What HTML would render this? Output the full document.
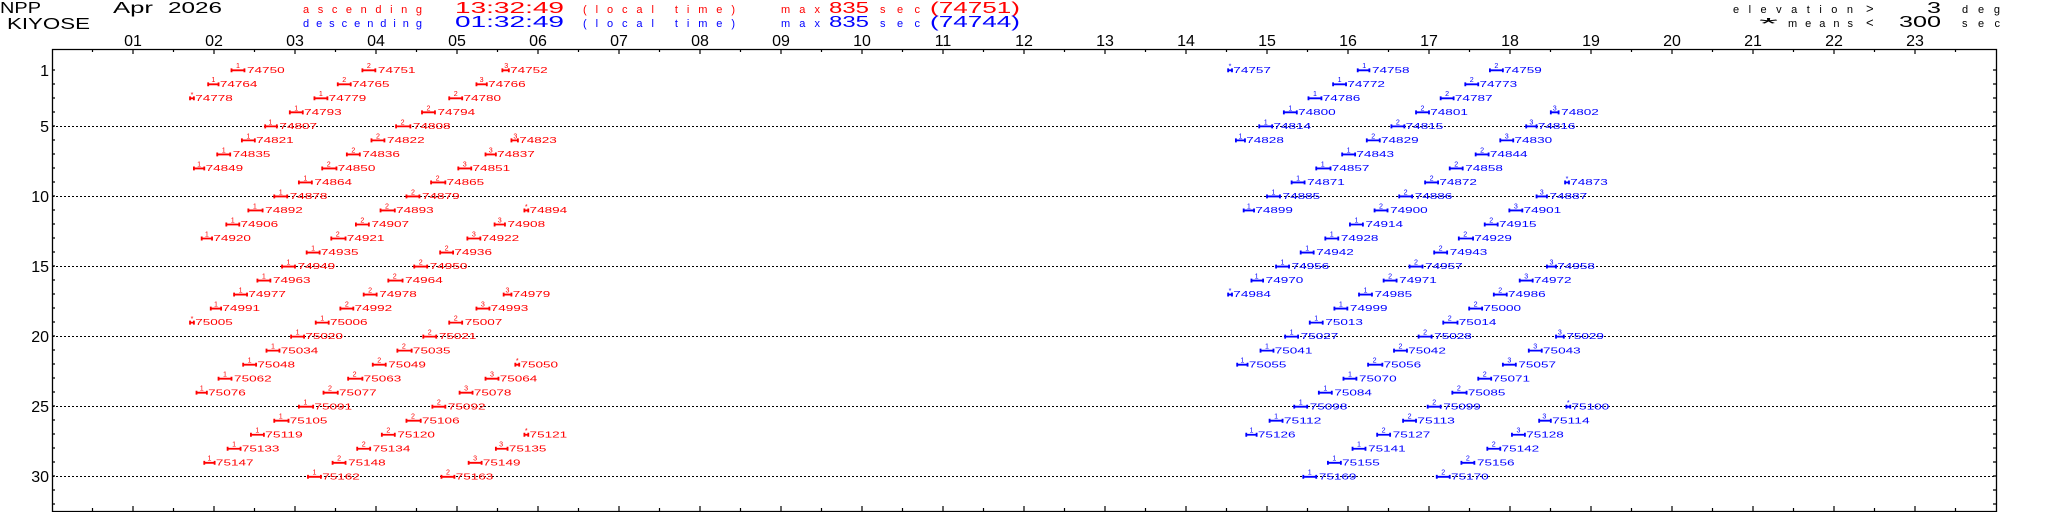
<!DOCTYPE html>
<html><head><meta charset="utf-8"><style>
html,body{margin:0;padding:0;background:#fff;}
svg{display:block;}
text{font-family:"Liberation Sans",sans-serif;}
.R{fill:#f00;stroke:none}.B{fill:#00f;stroke:none}
.R path{stroke:#f00;stroke-width:1.4;fill:none}.B path{stroke:#00f;stroke-width:1.4;fill:none}
.n{font-size:6px}
.s{font-size:5.5px;text-anchor:middle}
</style></head><body>
<svg width="2048" height="512" viewBox="0 0 2048 512" xmlns="http://www.w3.org/2000/svg">
<rect width="2048" height="512" fill="#fff"/>
<g fill="#000" font-size="16">
<text x="0" y="13" textLength="41" lengthAdjust="spacingAndGlyphs">NPP</text>
<text x="7" y="29" textLength="83" lengthAdjust="spacingAndGlyphs">KIYOSE</text>
<text x="113" y="13" textLength="40" lengthAdjust="spacingAndGlyphs">Apr</text>
<text x="168" y="13" textLength="54" lengthAdjust="spacingAndGlyphs">2026</text>
</g>
<g fill="#f00">
<text x="303" y="13" font-size="11" textLength="119" lengthAdjust="spacing">ascending</text>
<text x="455" y="13" font-size="16" textLength="109" lengthAdjust="spacingAndGlyphs">13:32:49</text>
<text x="583" y="13" font-size="11" textLength="152" lengthAdjust="spacing">(local time)</text>
<text x="781" y="13" font-size="11" textLength="39" lengthAdjust="spacing">max</text>
<text x="829" y="13" font-size="16" textLength="40" lengthAdjust="spacingAndGlyphs">835</text>
<text x="880" y="13" font-size="11" textLength="40" lengthAdjust="spacing">sec</text>
<text x="930" y="13" font-size="16" textLength="90" lengthAdjust="spacingAndGlyphs">(74751)</text>
</g>
<g fill="#00f">
<text x="303" y="27" font-size="11" textLength="119" lengthAdjust="spacing">descending</text>
<text x="455" y="27" font-size="16" textLength="109" lengthAdjust="spacingAndGlyphs">01:32:49</text>
<text x="583" y="27" font-size="11" textLength="152" lengthAdjust="spacing">(local time)</text>
<text x="781" y="27" font-size="11" textLength="39" lengthAdjust="spacing">max</text>
<text x="829" y="27" font-size="16" textLength="40" lengthAdjust="spacingAndGlyphs">835</text>
<text x="880" y="27" font-size="11" textLength="40" lengthAdjust="spacing">sec</text>
<text x="930" y="27" font-size="16" textLength="90" lengthAdjust="spacingAndGlyphs">(74744)</text>
</g>
<g fill="#000">
<text x="1733" y="13" font-size="11" textLength="120" lengthAdjust="spacing">elevation</text>
<text x="1866" y="13" font-size="13">&gt;</text>
<text x="1927" y="13" font-size="16" textLength="14" lengthAdjust="spacingAndGlyphs">3</text>
<text x="1962" y="13" font-size="11" textLength="38" lengthAdjust="spacing">deg</text>
<text x="1759" y="29" font-size="16" textLength="19" lengthAdjust="spacingAndGlyphs">*</text>
<text x="1788" y="27" font-size="11" textLength="65" lengthAdjust="spacing">means</text>
<text x="1866" y="27" font-size="13">&lt;</text>
<text x="1899" y="27" font-size="16" textLength="42" lengthAdjust="spacingAndGlyphs">300</text>
<text x="1962" y="27" font-size="11" textLength="38" lengthAdjust="spacing">sec</text>
</g>
<g fill="#000" font-size="16" text-anchor="middle">
<text x="133" y="46">01</text><text x="214" y="46">02</text><text x="295" y="46">03</text><text x="376" y="46">04</text><text x="457" y="46">05</text><text x="538" y="46">06</text><text x="619" y="46">07</text><text x="700" y="46">08</text><text x="781" y="46">09</text><text x="862" y="46">10</text><text x="943" y="46">11</text><text x="1024" y="46">12</text><text x="1105" y="46">13</text><text x="1186" y="46">14</text><text x="1267" y="46">15</text><text x="1348" y="46">16</text><text x="1429" y="46">17</text><text x="1510" y="46">18</text><text x="1591" y="46">19</text><text x="1672" y="46">20</text><text x="1753" y="46">21</text><text x="1834" y="46">22</text><text x="1915" y="46">23</text>
</g>
<g fill="#000" font-size="16" text-anchor="end">
<text x="49" y="76">1</text><text x="49" y="132">5</text><text x="49" y="202">10</text><text x="49" y="272">15</text><text x="49" y="342">20</text><text x="49" y="412">25</text><text x="49" y="482">30</text>
</g>
<g stroke="#000" stroke-width="1" stroke-dasharray="2,2">
<path d="M52 126.5H1997M52 196.5H1997M52 266.5H1997M52 336.5H1997M52 406.5H1997M52 476.5H1997"/>
</g>
<path d="M52.5 512V49.5H1996.5V512M52 511.5H1997" stroke="#000" stroke-width="1.3" fill="none"/>
<path stroke="#000" stroke-width="1.2" fill="none" d="M133 49v5M214 49v5M295 49v5M376 49v5M457 49v5M538 49v5M619 49v5M700 49v5M781 49v5M862 49v5M943 49v5M1024 49v5M1105 49v5M1186 49v5M1267 49v5M1348 49v5M1429 49v5M1510 49v5M1591 49v5M1672 49v5M1753 49v5M1834 49v5M1915 49v5M92.5 49v3M173.5 49v3M254.5 49v3M335.5 49v3M416.5 49v3M497.5 49v3M578.5 49v3M659.5 49v3M740.5 49v3M821.5 49v3M902.5 49v3M983.5 49v3M1064.5 49v3M1145.5 49v3M1226.5 49v3M1307.5 49v3M1388.5 49v3M1469.5 49v3M1550.5 49v3M1631.5 49v3M1712.5 49v3M1793.5 49v3M1874.5 49v3M1955.5 49v3
M133 511v-5M214 511v-5M295 511v-5M376 511v-5M457 511v-5M538 511v-5M619 511v-5M700 511v-5M781 511v-5M862 511v-5M943 511v-5M1024 511v-5M1105 511v-5M1186 511v-5M1267 511v-5M1348 511v-5M1429 511v-5M1510 511v-5M1591 511v-5M1672 511v-5M1753 511v-5M1834 511v-5M1915 511v-5M92.5 511v-3M173.5 511v-3M254.5 511v-3M335.5 511v-3M416.5 511v-3M497.5 511v-3M578.5 511v-3M659.5 511v-3M740.5 511v-3M821.5 511v-3M902.5 511v-3M983.5 511v-3M1064.5 511v-3M1145.5 511v-3M1226.5 511v-3M1307.5 511v-3M1388.5 511v-3M1469.5 511v-3M1550.5 511v-3M1631.5 511v-3M1712.5 511v-3M1793.5 511v-3M1874.5 511v-3M1955.5 511v-3
M52 70h3M52 84h3M52 98h3M52 112h3M52 126h3M52 140h3M52 154h3M52 168h3M52 182h3M52 196h3M52 210h3M52 224h3M52 238h3M52 252h3M52 266h3M52 280h3M52 294h3M52 308h3M52 322h3M52 336h3M52 350h3M52 364h3M52 378h3M52 392h3M52 406h3M52 420h3M52 434h3M52 448h3M52 462h3M52 476h3M52 490h3M52 504h3
M1993 70h4M1993 84h4M1993 98h4M1993 112h4M1993 126h4M1993 140h4M1993 154h4M1993 168h4M1993 182h4M1993 196h4M1993 210h4M1993 224h4M1993 238h4M1993 252h4M1993 266h4M1993 280h4M1993 294h4M1993 308h4M1993 322h4M1993 336h4M1993 350h4M1993 364h4M1993 378h4M1993 392h4M1993 406h4M1993 420h4M1993 434h4M1993 448h4M1993 462h4M1993 476h4M1993 490h4M1993 504h4"/>

<g transform="matrix(1.296 0 0 1.31 3.4 -0.7)">
<g class="R">
<g transform="translate(0,54.2)"><path d="M176 0h10M176-1.5v3M186-1.5v3M277 0h10M277-1.5v3M287-1.5v3M385 0h5M385-1.5v3M390-1.5v3"/><text class="s" x="181" y="-1.6">1</text><text class="n" x="188" y="2" textLength="29" lengthAdjust="spacingAndGlyphs">74750</text><text class="s" x="282" y="-1.6">2</text><text class="n" x="289" y="2" textLength="29" lengthAdjust="spacingAndGlyphs">74751</text><text class="s" x="388" y="-1.6">3</text><text class="n" x="391" y="2" textLength="29" lengthAdjust="spacingAndGlyphs">74752</text></g>
<g transform="translate(0,64.9)"><path d="M158 0h8M158-1.5v3M166-1.5v3M258 0h10M258-1.5v3M268-1.5v3M365 0h8M365-1.5v3M373-1.5v3"/><text class="s" x="162" y="-1.6">1</text><text class="n" x="167" y="2" textLength="29" lengthAdjust="spacingAndGlyphs">74764</text><text class="s" x="263" y="-1.6">2</text><text class="n" x="269" y="2" textLength="29" lengthAdjust="spacingAndGlyphs">74765</text><text class="s" x="369" y="-1.6">3</text><text class="n" x="374" y="2" textLength="29" lengthAdjust="spacingAndGlyphs">74766</text></g>
<g transform="translate(0,75.6)"><path d="M144 0h3M144-1.5v3M147-1.5v3M240 0h10M240-1.5v3M250-1.5v3M344 0h10M344-1.5v3M354-1.5v3"/><text class="s" x="145.5" y="-1.2">*</text><text class="n" x="148" y="2" textLength="29" lengthAdjust="spacingAndGlyphs">74778</text><text class="s" x="245" y="-1.6">1</text><text class="n" x="251" y="2" textLength="29" lengthAdjust="spacingAndGlyphs">74779</text><text class="s" x="349" y="-1.6">2</text><text class="n" x="355" y="2" textLength="29" lengthAdjust="spacingAndGlyphs">74780</text></g>
<g transform="translate(0,86.3)"><path d="M221 0h10M221-1.5v3M231-1.5v3M323 0h10M323-1.5v3M333-1.5v3"/><text class="s" x="226" y="-1.6">1</text><text class="n" x="232" y="2" textLength="29" lengthAdjust="spacingAndGlyphs">74793</text><text class="s" x="328" y="-1.6">2</text><text class="n" x="335" y="2" textLength="29" lengthAdjust="spacingAndGlyphs">74794</text></g>
<g transform="translate(0,97)"><path d="M202 0h9M202-1.5v3M211-1.5v3M303 0h11M303-1.5v3M314-1.5v3"/><text class="s" x="206" y="-1.6">1</text><text class="n" x="213" y="2" textLength="29" lengthAdjust="spacingAndGlyphs">74807</text><text class="s" x="308" y="-1.6">2</text><text class="n" x="316" y="2" textLength="29" lengthAdjust="spacingAndGlyphs">74808</text></g>
<g transform="translate(0,107.7)"><path d="M184 0h10M184-1.5v3M194-1.5v3M284 0h10M284-1.5v3M294-1.5v3M392 0h5M392-1.5v3M397-1.5v3"/><text class="s" x="189" y="-1.6">1</text><text class="n" x="195" y="2" textLength="29" lengthAdjust="spacingAndGlyphs">74821</text><text class="s" x="289" y="-1.6">2</text><text class="n" x="296" y="2" textLength="29" lengthAdjust="spacingAndGlyphs">74822</text><text class="s" x="395" y="-1.6">3</text><text class="n" x="398" y="2" textLength="29" lengthAdjust="spacingAndGlyphs">74823</text></g>
<g transform="translate(0,118.4)"><path d="M165 0h10M165-1.5v3M175-1.5v3M265 0h10M265-1.5v3M275-1.5v3M372 0h8M372-1.5v3M380-1.5v3"/><text class="s" x="170" y="-1.6">1</text><text class="n" x="177" y="2" textLength="29" lengthAdjust="spacingAndGlyphs">74835</text><text class="s" x="270" y="-1.6">2</text><text class="n" x="277" y="2" textLength="29" lengthAdjust="spacingAndGlyphs">74836</text><text class="s" x="376" y="-1.6">3</text><text class="n" x="381" y="2" textLength="29" lengthAdjust="spacingAndGlyphs">74837</text></g>
<g transform="translate(0,129.1)"><path d="M147 0h8M147-1.5v3M155-1.5v3M246 0h11M246-1.5v3M257-1.5v3M351 0h10M351-1.5v3M361-1.5v3"/><text class="s" x="151" y="-1.6">1</text><text class="n" x="156" y="2" textLength="29" lengthAdjust="spacingAndGlyphs">74849</text><text class="s" x="251" y="-1.6">2</text><text class="n" x="258" y="2" textLength="29" lengthAdjust="spacingAndGlyphs">74850</text><text class="s" x="356" y="-1.6">3</text><text class="n" x="362" y="2" textLength="29" lengthAdjust="spacingAndGlyphs">74851</text></g>
<g transform="translate(0,139.8)"><path d="M228 0h10M228-1.5v3M238-1.5v3M330 0h11M330-1.5v3M341-1.5v3"/><text class="s" x="233" y="-1.6">1</text><text class="n" x="240" y="2" textLength="29" lengthAdjust="spacingAndGlyphs">74864</text><text class="s" x="335" y="-1.6">2</text><text class="n" x="342" y="2" textLength="29" lengthAdjust="spacingAndGlyphs">74865</text></g>
<g transform="translate(0,150.5)"><path d="M209 0h10M209-1.5v3M219-1.5v3M311 0h10M311-1.5v3M321-1.5v3"/><text class="s" x="214" y="-1.6">1</text><text class="n" x="221" y="2" textLength="29" lengthAdjust="spacingAndGlyphs">74878</text><text class="s" x="316" y="-1.6">2</text><text class="n" x="323" y="2" textLength="29" lengthAdjust="spacingAndGlyphs">74879</text></g>
<g transform="translate(0,161.2)"><path d="M189 0h11M189-1.5v3M200-1.5v3M291 0h11M291-1.5v3M302-1.5v3M402 0h3M402-1.5v3M405-1.5v3"/><text class="s" x="194" y="-1.6">1</text><text class="n" x="202" y="2" textLength="29" lengthAdjust="spacingAndGlyphs">74892</text><text class="s" x="296" y="-1.6">2</text><text class="n" x="303" y="2" textLength="29" lengthAdjust="spacingAndGlyphs">74893</text><text class="s" x="403.5" y="-1.2">*</text><text class="n" x="406" y="2" textLength="29" lengthAdjust="spacingAndGlyphs">74894</text></g>
<g transform="translate(0,171.9)"><path d="M172 0h10M172-1.5v3M182-1.5v3M272 0h10M272-1.5v3M282-1.5v3M379 0h8M379-1.5v3M387-1.5v3"/><text class="s" x="177" y="-1.6">1</text><text class="n" x="183" y="2" textLength="29" lengthAdjust="spacingAndGlyphs">74906</text><text class="s" x="277" y="-1.6">2</text><text class="n" x="284" y="2" textLength="29" lengthAdjust="spacingAndGlyphs">74907</text><text class="s" x="383" y="-1.6">3</text><text class="n" x="389" y="2" textLength="29" lengthAdjust="spacingAndGlyphs">74908</text></g>
<g transform="translate(0,182.6)"><path d="M153 0h8M153-1.5v3M161-1.5v3M253 0h11M253-1.5v3M264-1.5v3M358 0h10M358-1.5v3M368-1.5v3"/><text class="s" x="157" y="-1.6">1</text><text class="n" x="162" y="2" textLength="29" lengthAdjust="spacingAndGlyphs">74920</text><text class="s" x="258" y="-1.6">2</text><text class="n" x="265" y="2" textLength="29" lengthAdjust="spacingAndGlyphs">74921</text><text class="s" x="363" y="-1.6">3</text><text class="n" x="369" y="2" textLength="29" lengthAdjust="spacingAndGlyphs">74922</text></g>
<g transform="translate(0,193.3)"><path d="M234 0h10M234-1.5v3M244-1.5v3M337 0h10M337-1.5v3M347-1.5v3"/><text class="s" x="239" y="-1.6">1</text><text class="n" x="245" y="2" textLength="29" lengthAdjust="spacingAndGlyphs">74935</text><text class="s" x="342" y="-1.6">2</text><text class="n" x="348" y="2" textLength="29" lengthAdjust="spacingAndGlyphs">74936</text></g>
<g transform="translate(0,204)"><path d="M215 0h10M215-1.5v3M225-1.5v3M317 0h10M317-1.5v3M327-1.5v3"/><text class="s" x="220" y="-1.6">1</text><text class="n" x="227" y="2" textLength="29" lengthAdjust="spacingAndGlyphs">74949</text><text class="s" x="322" y="-1.6">2</text><text class="n" x="329" y="2" textLength="29" lengthAdjust="spacingAndGlyphs">74950</text></g>
<g transform="translate(0,214.7)"><path d="M196 0h10M196-1.5v3M206-1.5v3M297 0h11M297-1.5v3M308-1.5v3"/><text class="s" x="201" y="-1.6">1</text><text class="n" x="208" y="2" textLength="29" lengthAdjust="spacingAndGlyphs">74963</text><text class="s" x="302" y="-1.6">2</text><text class="n" x="310" y="2" textLength="29" lengthAdjust="spacingAndGlyphs">74964</text></g>
<g transform="translate(0,225.4)"><path d="M178 0h10M178-1.5v3M188-1.5v3M278 0h10M278-1.5v3M288-1.5v3M386 0h6M386-1.5v3M392-1.5v3"/><text class="s" x="183" y="-1.6">1</text><text class="n" x="189" y="2" textLength="29" lengthAdjust="spacingAndGlyphs">74977</text><text class="s" x="283" y="-1.6">2</text><text class="n" x="290" y="2" textLength="29" lengthAdjust="spacingAndGlyphs">74978</text><text class="s" x="389" y="-1.6">3</text><text class="n" x="393" y="2" textLength="29" lengthAdjust="spacingAndGlyphs">74979</text></g>
<g transform="translate(0,236.1)"><path d="M160 0h8M160-1.5v3M168-1.5v3M260 0h10M260-1.5v3M270-1.5v3M365 0h10M365-1.5v3M375-1.5v3"/><text class="s" x="164" y="-1.6">1</text><text class="n" x="169" y="2" textLength="29" lengthAdjust="spacingAndGlyphs">74991</text><text class="s" x="265" y="-1.6">2</text><text class="n" x="271" y="2" textLength="29" lengthAdjust="spacingAndGlyphs">74992</text><text class="s" x="370" y="-1.6">3</text><text class="n" x="376" y="2" textLength="29" lengthAdjust="spacingAndGlyphs">74993</text></g>
<g transform="translate(0,246.8)"><path d="M144 0h3M144-1.5v3M147-1.5v3M241 0h10M241-1.5v3M251-1.5v3M344 0h10M344-1.5v3M354-1.5v3"/><text class="s" x="145.5" y="-1.2">*</text><text class="n" x="148" y="2" textLength="29" lengthAdjust="spacingAndGlyphs">75005</text><text class="s" x="246" y="-1.6">1</text><text class="n" x="252" y="2" textLength="29" lengthAdjust="spacingAndGlyphs">75006</text><text class="s" x="349" y="-1.6">2</text><text class="n" x="356" y="2" textLength="29" lengthAdjust="spacingAndGlyphs">75007</text></g>
<g transform="translate(0,257.5)"><path d="M222 0h10M222-1.5v3M232-1.5v3M324 0h10M324-1.5v3M334-1.5v3"/><text class="s" x="227" y="-1.6">1</text><text class="n" x="233" y="2" textLength="29" lengthAdjust="spacingAndGlyphs">75020</text><text class="s" x="329" y="-1.6">2</text><text class="n" x="336" y="2" textLength="29" lengthAdjust="spacingAndGlyphs">75021</text></g>
<g transform="translate(0,268.2)"><path d="M203 0h10M203-1.5v3M213-1.5v3M304 0h11M304-1.5v3M315-1.5v3"/><text class="s" x="208" y="-1.6">1</text><text class="n" x="214" y="2" textLength="29" lengthAdjust="spacingAndGlyphs">75034</text><text class="s" x="309" y="-1.6">2</text><text class="n" x="316" y="2" textLength="29" lengthAdjust="spacingAndGlyphs">75035</text></g>
<g transform="translate(0,278.9)"><path d="M185 0h10M185-1.5v3M195-1.5v3M285 0h10M285-1.5v3M295-1.5v3M395 0h3M395-1.5v3M398-1.5v3"/><text class="s" x="190" y="-1.6">1</text><text class="n" x="196" y="2" textLength="29" lengthAdjust="spacingAndGlyphs">75048</text><text class="s" x="290" y="-1.6">2</text><text class="n" x="297" y="2" textLength="29" lengthAdjust="spacingAndGlyphs">75049</text><text class="s" x="396.5" y="-1.2">*</text><text class="n" x="399" y="2" textLength="29" lengthAdjust="spacingAndGlyphs">75050</text></g>
<g transform="translate(0,289.6)"><path d="M166 0h10M166-1.5v3M176-1.5v3M266 0h11M266-1.5v3M277-1.5v3M372 0h10M372-1.5v3M382-1.5v3"/><text class="s" x="171" y="-1.6">1</text><text class="n" x="178" y="2" textLength="29" lengthAdjust="spacingAndGlyphs">75062</text><text class="s" x="271" y="-1.6">2</text><text class="n" x="278" y="2" textLength="29" lengthAdjust="spacingAndGlyphs">75063</text><text class="s" x="377" y="-1.6">3</text><text class="n" x="383" y="2" textLength="29" lengthAdjust="spacingAndGlyphs">75064</text></g>
<g transform="translate(0,300.3)"><path d="M149 0h8M149-1.5v3M157-1.5v3M247 0h11M247-1.5v3M258-1.5v3M352 0h10M352-1.5v3M362-1.5v3"/><text class="s" x="153" y="-1.6">1</text><text class="n" x="158" y="2" textLength="29" lengthAdjust="spacingAndGlyphs">75076</text><text class="s" x="252" y="-1.6">2</text><text class="n" x="259" y="2" textLength="29" lengthAdjust="spacingAndGlyphs">75077</text><text class="s" x="357" y="-1.6">3</text><text class="n" x="363" y="2" textLength="29" lengthAdjust="spacingAndGlyphs">75078</text></g>
<g transform="translate(0,311)"><path d="M228 0h11M228-1.5v3M239-1.5v3M331 0h10M331-1.5v3M341-1.5v3"/><text class="s" x="233" y="-1.6">1</text><text class="n" x="240" y="2" textLength="29" lengthAdjust="spacingAndGlyphs">75091</text><text class="s" x="336" y="-1.6">2</text><text class="n" x="343" y="2" textLength="29" lengthAdjust="spacingAndGlyphs">75092</text></g>
<g transform="translate(0,321.7)"><path d="M209 0h11M209-1.5v3M220-1.5v3M311 0h11M311-1.5v3M322-1.5v3"/><text class="s" x="214" y="-1.6">1</text><text class="n" x="221" y="2" textLength="29" lengthAdjust="spacingAndGlyphs">75105</text><text class="s" x="316" y="-1.6">2</text><text class="n" x="323" y="2" textLength="29" lengthAdjust="spacingAndGlyphs">75106</text></g>
<g transform="translate(0,332.4)"><path d="M191 0h10M191-1.5v3M201-1.5v3M292 0h10M292-1.5v3M302-1.5v3M402 0h3M402-1.5v3M405-1.5v3"/><text class="s" x="196" y="-1.6">1</text><text class="n" x="202" y="2" textLength="29" lengthAdjust="spacingAndGlyphs">75119</text><text class="s" x="297" y="-1.6">2</text><text class="n" x="304" y="2" textLength="29" lengthAdjust="spacingAndGlyphs">75120</text><text class="s" x="403.5" y="-1.2">*</text><text class="n" x="406" y="2" textLength="29" lengthAdjust="spacingAndGlyphs">75121</text></g>
<g transform="translate(0,343.1)"><path d="M173 0h10M173-1.5v3M183-1.5v3M273 0h10M273-1.5v3M283-1.5v3M380 0h9M380-1.5v3M389-1.5v3"/><text class="s" x="178" y="-1.6">1</text><text class="n" x="184" y="2" textLength="29" lengthAdjust="spacingAndGlyphs">75133</text><text class="s" x="278" y="-1.6">2</text><text class="n" x="285" y="2" textLength="29" lengthAdjust="spacingAndGlyphs">75134</text><text class="s" x="384" y="-1.6">3</text><text class="n" x="390" y="2" textLength="29" lengthAdjust="spacingAndGlyphs">75135</text></g>
<g transform="translate(0,353.8)"><path d="M155 0h8M155-1.5v3M163-1.5v3M254 0h10M254-1.5v3M264-1.5v3M359 0h10M359-1.5v3M369-1.5v3"/><text class="s" x="159" y="-1.6">1</text><text class="n" x="164" y="2" textLength="29" lengthAdjust="spacingAndGlyphs">75147</text><text class="s" x="259" y="-1.6">2</text><text class="n" x="266" y="2" textLength="29" lengthAdjust="spacingAndGlyphs">75148</text><text class="s" x="364" y="-1.6">3</text><text class="n" x="370" y="2" textLength="29" lengthAdjust="spacingAndGlyphs">75149</text></g>
<g transform="translate(0,364.5)"><path d="M235 0h10M235-1.5v3M245-1.5v3M338 0h10M338-1.5v3M348-1.5v3"/><text class="s" x="240" y="-1.6">1</text><text class="n" x="246" y="2" textLength="29" lengthAdjust="spacingAndGlyphs">75162</text><text class="s" x="343" y="-1.6">2</text><text class="n" x="349" y="2" textLength="29" lengthAdjust="spacingAndGlyphs">75163</text></g>
</g>

<g class="B">
<g transform="translate(0,54.2)"><path d="M945 0h3M945-1.5v3M948-1.5v3M1045 0h9M1045-1.5v3M1054-1.5v3M1147 0h10M1147-1.5v3M1157-1.5v3"/><text class="s" x="946.5" y="-1.2">*</text><text class="n" x="949" y="2" textLength="29" lengthAdjust="spacingAndGlyphs">74757</text><text class="s" x="1050" y="-1.6">1</text><text class="n" x="1056" y="2" textLength="29" lengthAdjust="spacingAndGlyphs">74758</text><text class="s" x="1152" y="-1.6">2</text><text class="n" x="1158" y="2" textLength="29" lengthAdjust="spacingAndGlyphs">74759</text></g>
<g transform="translate(0,64.9)"><path d="M1026 0h10M1026-1.5v3M1036-1.5v3M1128 0h10M1128-1.5v3M1138-1.5v3"/><text class="s" x="1031" y="-1.6">1</text><text class="n" x="1037" y="2" textLength="29" lengthAdjust="spacingAndGlyphs">74772</text><text class="s" x="1133" y="-1.6">2</text><text class="n" x="1139" y="2" textLength="29" lengthAdjust="spacingAndGlyphs">74773</text></g>
<g transform="translate(0,75.6)"><path d="M1007 0h10M1007-1.5v3M1017-1.5v3M1109 0h10M1109-1.5v3M1119-1.5v3"/><text class="s" x="1012" y="-1.6">1</text><text class="n" x="1018" y="2" textLength="29" lengthAdjust="spacingAndGlyphs">74786</text><text class="s" x="1114" y="-1.6">2</text><text class="n" x="1120" y="2" textLength="29" lengthAdjust="spacingAndGlyphs">74787</text></g>
<g transform="translate(0,86.3)"><path d="M988 0h10M988-1.5v3M998-1.5v3M1090 0h10M1090-1.5v3M1100-1.5v3M1194 0h6M1194-1.5v3M1200-1.5v3"/><text class="s" x="993" y="-1.6">1</text><text class="n" x="999" y="2" textLength="29" lengthAdjust="spacingAndGlyphs">74800</text><text class="s" x="1095" y="-1.6">2</text><text class="n" x="1101" y="2" textLength="29" lengthAdjust="spacingAndGlyphs">74801</text><text class="s" x="1197" y="-1.6">3</text><text class="n" x="1202" y="2" textLength="29" lengthAdjust="spacingAndGlyphs">74802</text></g>
<g transform="translate(0,97)"><path d="M969 0h10M969-1.5v3M979-1.5v3M1071 0h10M1071-1.5v3M1081-1.5v3M1175 0h8M1175-1.5v3M1183-1.5v3"/><text class="s" x="974" y="-1.6">1</text><text class="n" x="980" y="2" textLength="29" lengthAdjust="spacingAndGlyphs">74814</text><text class="s" x="1076" y="-1.6">2</text><text class="n" x="1082" y="2" textLength="29" lengthAdjust="spacingAndGlyphs">74815</text><text class="s" x="1179" y="-1.6">3</text><text class="n" x="1184" y="2" textLength="29" lengthAdjust="spacingAndGlyphs">74816</text></g>
<g transform="translate(0,107.7)"><path d="M951 0h7M951-1.5v3M958-1.5v3M1052 0h10M1052-1.5v3M1062-1.5v3M1155 0h10M1155-1.5v3M1165-1.5v3"/><text class="s" x="954.5" y="-1.6">1</text><text class="n" x="959" y="2" textLength="29" lengthAdjust="spacingAndGlyphs">74828</text><text class="s" x="1057" y="-1.6">2</text><text class="n" x="1063" y="2" textLength="29" lengthAdjust="spacingAndGlyphs">74829</text><text class="s" x="1160" y="-1.6">3</text><text class="n" x="1166" y="2" textLength="29" lengthAdjust="spacingAndGlyphs">74830</text></g>
<g transform="translate(0,118.4)"><path d="M1033 0h10M1033-1.5v3M1043-1.5v3M1136 0h10M1136-1.5v3M1146-1.5v3"/><text class="s" x="1038" y="-1.6">1</text><text class="n" x="1044" y="2" textLength="29" lengthAdjust="spacingAndGlyphs">74843</text><text class="s" x="1141" y="-1.6">2</text><text class="n" x="1147" y="2" textLength="29" lengthAdjust="spacingAndGlyphs">74844</text></g>
<g transform="translate(0,129.1)"><path d="M1013 0h11M1013-1.5v3M1024-1.5v3M1116 0h10M1116-1.5v3M1126-1.5v3"/><text class="s" x="1018" y="-1.6">1</text><text class="n" x="1025" y="2" textLength="29" lengthAdjust="spacingAndGlyphs">74857</text><text class="s" x="1121" y="-1.6">2</text><text class="n" x="1128" y="2" textLength="29" lengthAdjust="spacingAndGlyphs">74858</text></g>
<g transform="translate(0,139.8)"><path d="M994 0h10M994-1.5v3M1004-1.5v3M1097 0h10M1097-1.5v3M1107-1.5v3M1205 0h3M1205-1.5v3M1208-1.5v3"/><text class="s" x="999" y="-1.6">1</text><text class="n" x="1006" y="2" textLength="29" lengthAdjust="spacingAndGlyphs">74871</text><text class="s" x="1102" y="-1.6">2</text><text class="n" x="1108" y="2" textLength="29" lengthAdjust="spacingAndGlyphs">74872</text><text class="s" x="1206.5" y="-1.2">*</text><text class="n" x="1209" y="2" textLength="29" lengthAdjust="spacingAndGlyphs">74873</text></g>
<g transform="translate(0,150.5)"><path d="M975 0h10M975-1.5v3M985-1.5v3M1077 0h10M1077-1.5v3M1087-1.5v3M1183 0h8M1183-1.5v3M1191-1.5v3"/><text class="s" x="980" y="-1.6">1</text><text class="n" x="987" y="2" textLength="29" lengthAdjust="spacingAndGlyphs">74885</text><text class="s" x="1082" y="-1.6">2</text><text class="n" x="1089" y="2" textLength="29" lengthAdjust="spacingAndGlyphs">74886</text><text class="s" x="1187" y="-1.6">3</text><text class="n" x="1193" y="2" textLength="29" lengthAdjust="spacingAndGlyphs">74887</text></g>
<g transform="translate(0,161.2)"><path d="M957 0h8M957-1.5v3M965-1.5v3M1058 0h10M1058-1.5v3M1068-1.5v3M1162 0h10M1162-1.5v3M1172-1.5v3"/><text class="s" x="961" y="-1.6">1</text><text class="n" x="966" y="2" textLength="29" lengthAdjust="spacingAndGlyphs">74899</text><text class="s" x="1063" y="-1.6">2</text><text class="n" x="1070" y="2" textLength="29" lengthAdjust="spacingAndGlyphs">74900</text><text class="s" x="1167" y="-1.6">3</text><text class="n" x="1173" y="2" textLength="29" lengthAdjust="spacingAndGlyphs">74901</text></g>
<g transform="translate(0,171.9)"><path d="M1039 0h10M1039-1.5v3M1049-1.5v3M1143 0h10M1143-1.5v3M1153-1.5v3"/><text class="s" x="1044" y="-1.6">1</text><text class="n" x="1051" y="2" textLength="29" lengthAdjust="spacingAndGlyphs">74914</text><text class="s" x="1148" y="-1.6">2</text><text class="n" x="1154" y="2" textLength="29" lengthAdjust="spacingAndGlyphs">74915</text></g>
<g transform="translate(0,182.6)"><path d="M1020 0h10M1020-1.5v3M1030-1.5v3M1123 0h11M1123-1.5v3M1134-1.5v3"/><text class="s" x="1025" y="-1.6">1</text><text class="n" x="1032" y="2" textLength="29" lengthAdjust="spacingAndGlyphs">74928</text><text class="s" x="1128" y="-1.6">2</text><text class="n" x="1135" y="2" textLength="29" lengthAdjust="spacingAndGlyphs">74929</text></g>
<g transform="translate(0,193.3)"><path d="M1001 0h10M1001-1.5v3M1011-1.5v3M1104 0h10M1104-1.5v3M1114-1.5v3"/><text class="s" x="1006" y="-1.6">1</text><text class="n" x="1013" y="2" textLength="29" lengthAdjust="spacingAndGlyphs">74942</text><text class="s" x="1109" y="-1.6">2</text><text class="n" x="1116" y="2" textLength="29" lengthAdjust="spacingAndGlyphs">74943</text></g>
<g transform="translate(0,204)"><path d="M982 0h10M982-1.5v3M992-1.5v3M1085 0h10M1085-1.5v3M1095-1.5v3M1191 0h7M1191-1.5v3M1198-1.5v3"/><text class="s" x="987" y="-1.6">1</text><text class="n" x="994" y="2" textLength="29" lengthAdjust="spacingAndGlyphs">74956</text><text class="s" x="1090" y="-1.6">2</text><text class="n" x="1097" y="2" textLength="29" lengthAdjust="spacingAndGlyphs">74957</text><text class="s" x="1194.5" y="-1.6">3</text><text class="n" x="1199" y="2" textLength="29" lengthAdjust="spacingAndGlyphs">74958</text></g>
<g transform="translate(0,214.7)"><path d="M963 0h9M963-1.5v3M972-1.5v3M1065 0h10M1065-1.5v3M1075-1.5v3M1170 0h10M1170-1.5v3M1180-1.5v3"/><text class="s" x="967" y="-1.6">1</text><text class="n" x="974" y="2" textLength="29" lengthAdjust="spacingAndGlyphs">74970</text><text class="s" x="1070" y="-1.6">2</text><text class="n" x="1077" y="2" textLength="29" lengthAdjust="spacingAndGlyphs">74971</text><text class="s" x="1175" y="-1.6">3</text><text class="n" x="1181" y="2" textLength="29" lengthAdjust="spacingAndGlyphs">74972</text></g>
<g transform="translate(0,225.4)"><path d="M945 0h3M945-1.5v3M948-1.5v3M1046 0h10M1046-1.5v3M1056-1.5v3M1150 0h10M1150-1.5v3M1160-1.5v3"/><text class="s" x="946.5" y="-1.2">*</text><text class="n" x="949" y="2" textLength="29" lengthAdjust="spacingAndGlyphs">74984</text><text class="s" x="1051" y="-1.6">1</text><text class="n" x="1058" y="2" textLength="29" lengthAdjust="spacingAndGlyphs">74985</text><text class="s" x="1155" y="-1.6">2</text><text class="n" x="1161" y="2" textLength="29" lengthAdjust="spacingAndGlyphs">74986</text></g>
<g transform="translate(0,236.1)"><path d="M1027 0h10M1027-1.5v3M1037-1.5v3M1131 0h10M1131-1.5v3M1141-1.5v3"/><text class="s" x="1032" y="-1.6">1</text><text class="n" x="1039" y="2" textLength="29" lengthAdjust="spacingAndGlyphs">74999</text><text class="s" x="1136" y="-1.6">2</text><text class="n" x="1142" y="2" textLength="29" lengthAdjust="spacingAndGlyphs">75000</text></g>
<g transform="translate(0,246.8)"><path d="M1008 0h10M1008-1.5v3M1018-1.5v3M1111 0h11M1111-1.5v3M1122-1.5v3"/><text class="s" x="1013" y="-1.6">1</text><text class="n" x="1020" y="2" textLength="29" lengthAdjust="spacingAndGlyphs">75013</text><text class="s" x="1116" y="-1.6">2</text><text class="n" x="1123" y="2" textLength="29" lengthAdjust="spacingAndGlyphs">75014</text></g>
<g transform="translate(0,257.5)"><path d="M989 0h10M989-1.5v3M999-1.5v3M1092 0h10M1092-1.5v3M1102-1.5v3M1198 0h6M1198-1.5v3M1204-1.5v3"/><text class="s" x="994" y="-1.6">1</text><text class="n" x="1001" y="2" textLength="29" lengthAdjust="spacingAndGlyphs">75027</text><text class="s" x="1097" y="-1.6">2</text><text class="n" x="1104" y="2" textLength="29" lengthAdjust="spacingAndGlyphs">75028</text><text class="s" x="1201" y="-1.6">3</text><text class="n" x="1206" y="2" textLength="29" lengthAdjust="spacingAndGlyphs">75029</text></g>
<g transform="translate(0,268.2)"><path d="M970 0h10M970-1.5v3M980-1.5v3M1073 0h10M1073-1.5v3M1083-1.5v3M1177 0h10M1177-1.5v3M1187-1.5v3"/><text class="s" x="975" y="-1.6">1</text><text class="n" x="981" y="2" textLength="29" lengthAdjust="spacingAndGlyphs">75041</text><text class="s" x="1078" y="-1.6">2</text><text class="n" x="1084" y="2" textLength="29" lengthAdjust="spacingAndGlyphs">75042</text><text class="s" x="1182" y="-1.6">3</text><text class="n" x="1188" y="2" textLength="29" lengthAdjust="spacingAndGlyphs">75043</text></g>
<g transform="translate(0,278.9)"><path d="M952 0h8M952-1.5v3M960-1.5v3M1053 0h11M1053-1.5v3M1064-1.5v3M1157 0h10M1157-1.5v3M1167-1.5v3"/><text class="s" x="956" y="-1.6">1</text><text class="n" x="961" y="2" textLength="29" lengthAdjust="spacingAndGlyphs">75055</text><text class="s" x="1058" y="-1.6">2</text><text class="n" x="1065" y="2" textLength="29" lengthAdjust="spacingAndGlyphs">75056</text><text class="s" x="1162" y="-1.6">3</text><text class="n" x="1169" y="2" textLength="29" lengthAdjust="spacingAndGlyphs">75057</text></g>
<g transform="translate(0,289.6)"><path d="M1034 0h10M1034-1.5v3M1044-1.5v3M1138 0h10M1138-1.5v3M1148-1.5v3"/><text class="s" x="1039" y="-1.6">1</text><text class="n" x="1046" y="2" textLength="29" lengthAdjust="spacingAndGlyphs">75070</text><text class="s" x="1143" y="-1.6">2</text><text class="n" x="1149" y="2" textLength="29" lengthAdjust="spacingAndGlyphs">75071</text></g>
<g transform="translate(0,300.3)"><path d="M1015 0h10M1015-1.5v3M1025-1.5v3M1118 0h11M1118-1.5v3M1129-1.5v3"/><text class="s" x="1020" y="-1.6">1</text><text class="n" x="1027" y="2" textLength="29" lengthAdjust="spacingAndGlyphs">75084</text><text class="s" x="1123" y="-1.6">2</text><text class="n" x="1130" y="2" textLength="29" lengthAdjust="spacingAndGlyphs">75085</text></g>
<g transform="translate(0,311)"><path d="M996 0h10M996-1.5v3M1006-1.5v3M1099 0h10M1099-1.5v3M1109-1.5v3M1206 0h3M1206-1.5v3M1209-1.5v3"/><text class="s" x="1001" y="-1.6">1</text><text class="n" x="1008" y="2" textLength="29" lengthAdjust="spacingAndGlyphs">75098</text><text class="s" x="1104" y="-1.6">2</text><text class="n" x="1111" y="2" textLength="29" lengthAdjust="spacingAndGlyphs">75099</text><text class="s" x="1207.5" y="-1.2">*</text><text class="n" x="1210" y="2" textLength="29" lengthAdjust="spacingAndGlyphs">75100</text></g>
<g transform="translate(0,321.7)"><path d="M977 0h10M977-1.5v3M987-1.5v3M1080 0h10M1080-1.5v3M1090-1.5v3M1185 0h9M1185-1.5v3M1194-1.5v3"/><text class="s" x="982" y="-1.6">1</text><text class="n" x="988" y="2" textLength="29" lengthAdjust="spacingAndGlyphs">75112</text><text class="s" x="1085" y="-1.6">2</text><text class="n" x="1091" y="2" textLength="29" lengthAdjust="spacingAndGlyphs">75113</text><text class="s" x="1189" y="-1.6">3</text><text class="n" x="1195" y="2" textLength="29" lengthAdjust="spacingAndGlyphs">75114</text></g>
<g transform="translate(0,332.4)"><path d="M959 0h8M959-1.5v3M967-1.5v3M1060 0h10M1060-1.5v3M1070-1.5v3M1164 0h10M1164-1.5v3M1174-1.5v3"/><text class="s" x="963" y="-1.6">1</text><text class="n" x="968" y="2" textLength="29" lengthAdjust="spacingAndGlyphs">75126</text><text class="s" x="1065" y="-1.6">2</text><text class="n" x="1072" y="2" textLength="29" lengthAdjust="spacingAndGlyphs">75127</text><text class="s" x="1169" y="-1.6">3</text><text class="n" x="1175" y="2" textLength="29" lengthAdjust="spacingAndGlyphs">75128</text></g>
<g transform="translate(0,343.1)"><path d="M1041 0h10M1041-1.5v3M1051-1.5v3M1145 0h10M1145-1.5v3M1155-1.5v3"/><text class="s" x="1046" y="-1.6">1</text><text class="n" x="1053" y="2" textLength="29" lengthAdjust="spacingAndGlyphs">75141</text><text class="s" x="1150" y="-1.6">2</text><text class="n" x="1156" y="2" textLength="29" lengthAdjust="spacingAndGlyphs">75142</text></g>
<g transform="translate(0,353.8)"><path d="M1022 0h10M1022-1.5v3M1032-1.5v3M1125 0h10M1125-1.5v3M1135-1.5v3"/><text class="s" x="1027" y="-1.6">1</text><text class="n" x="1033" y="2" textLength="29" lengthAdjust="spacingAndGlyphs">75155</text><text class="s" x="1130" y="-1.6">2</text><text class="n" x="1137" y="2" textLength="29" lengthAdjust="spacingAndGlyphs">75156</text></g>
<g transform="translate(0,364.5)"><path d="M1003 0h10M1003-1.5v3M1013-1.5v3M1106 0h10M1106-1.5v3M1116-1.5v3"/><text class="s" x="1008" y="-1.6">1</text><text class="n" x="1015" y="2" textLength="29" lengthAdjust="spacingAndGlyphs">75169</text><text class="s" x="1111" y="-1.6">2</text><text class="n" x="1117" y="2" textLength="29" lengthAdjust="spacingAndGlyphs">75170</text></g>
</g>
</g>
</svg>
</body></html>
